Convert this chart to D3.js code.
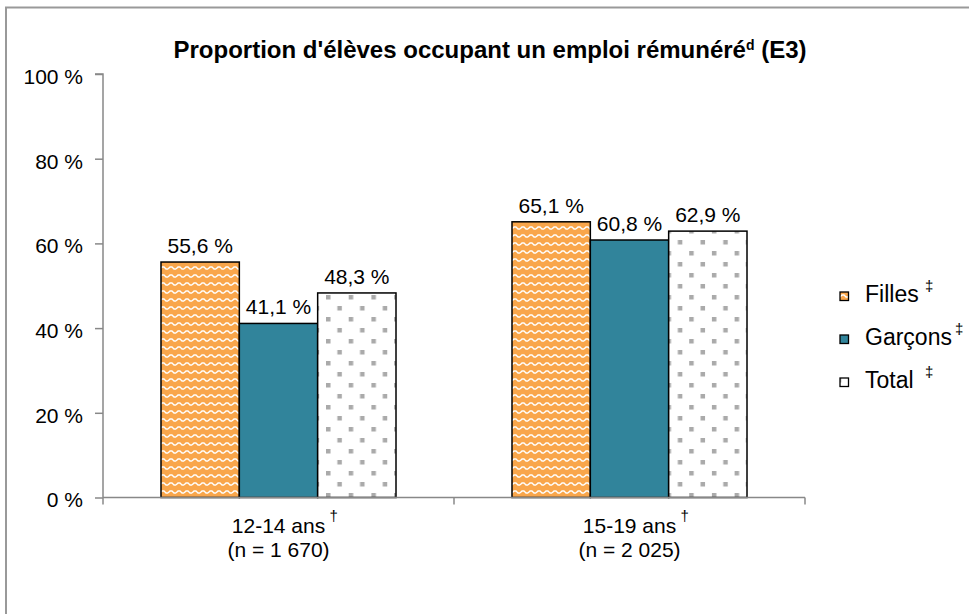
<!DOCTYPE html>
<html>
<head>
<meta charset="utf-8">
<script src="https://cdn.jsdelivr.net/npm/d3@7"></script>
<style>
  body { margin: 0; background: #fff; }
  svg { font-family: "Liberation Sans", Arial, sans-serif; }
</style>
</head>
<body>
<div id="container"></div>
<script>
// data
const groups = ["12-14 ans", "15-19 ans"];
const groupNotes = ["(n = 1 670)", "(n = 2 025)"];
const series = ["Filles", "Garçons", "Total"];
const filles = [55.6, 65.1];
const garcons = [41.1, 60.8];
const total = [48.3, 62.9];
const yTicks = [0, 20, 40, 60, 80, 100];

const values = [filles, garcons, total];
const fmt = v => v.toFixed(1).replace(".", ",") + " %";

const w = 969, h = 614;
const svg = d3.select("#container").append("svg")
  .attr("width", w).attr("height", h);

// PATTERNS
const defs = svg.append("defs");
const wave = defs.append("pattern")
  .attr("id", "wave").attr("patternUnits", "userSpaceOnUse")
  .attr("width", 8).attr("height", 8);
wave.append("rect").attr("width", 8).attr("height", 8).attr("fill", "#F9A64B");
wave.append("path")
  .attr("d", "M0,5 L2,3 L4,3 L6,5 L8,5")
  .attr("fill", "none").attr("stroke", "#fff").attr("stroke-width", 1.3);

const dots = defs.append("pattern")
  .attr("id", "dots").attr("patternUnits", "userSpaceOnUse")
  .attr("x", 326).attr("y", 295)
  .attr("width", 22.7).attr("height", 22);
dots.append("rect").attr("width", 22.7).attr("height", 22).attr("fill", "#fff");
dots.append("rect").attr("x", 0).attr("y", 0).attr("width", 4.5).attr("height", 4.5).attr("fill", "#aaa");
dots.append("rect").attr("x", 11.35).attr("y", 11).attr("width", 4.5).attr("height", 4.5).attr("fill", "#aaa");

const fills = ["url(#wave)", "#31849B", "url(#dots)"];

// FRAME
svg.append("rect")
  .attr("x", 6).attr("y", 7.5).attr("width", 980).attr("height", 640)
  .attr("fill", "none").attr("stroke", "#999").attr("stroke-width", 2);

// TITLE
const title = svg.append("text")
  .attr("x", 490).attr("y", 58)
  .attr("text-anchor", "middle")
  .attr("font-size", 24).attr("font-weight", "bold");
title.append("tspan").text("Proportion d'élèves occupant un emploi rémunéré");
title.append("tspan").attr("font-size", 14).attr("dy", -8).text("d");
title.append("tspan").attr("dy", 8).text(" (E3)");

// SCALES
const plotL = 103, plotR = 805, plotT = 74, plotB = 497.5;
const x0 = d3.scaleBand().domain(groups).range([plotL, plotR]).paddingInner(0).paddingOuter(0);
const x1 = d3.scaleBand().domain(series).range([58, x0.bandwidth() - 58]);
const y = d3.scaleLinear().domain([0, 100]).range([plotB, plotT]);

// Y AXIS
const yAxis = svg.append("g")
  .attr("transform", `translate(${plotL},0)`)
  .call(d3.axisLeft(y).tickValues(yTicks).tickSize(8).tickFormat(d => d + " %"));
yAxis.select(".domain").attr("stroke", "#888").attr("stroke-width", 1.5).attr("d", `M-8,${plotT}H0V${plotB}`);
yAxis.selectAll(".tick line").attr("stroke", "#888").attr("stroke-width", 1.5);
yAxis.selectAll(".tick text").attr("font-size", 21).attr("fill", "#000").attr("x", -20).attr("dy", "0.45em")
  .attr("font-family", "Liberation Sans, Arial, sans-serif");

// BARS
const g = svg.append("g");
groups.forEach((grp, gi) => {
  series.forEach((s, si) => {
    const v = values[si][gi];
    const bx = x0(grp) + x1(s);
    g.append("rect")
      .attr("x", bx).attr("y", y(v))
      .attr("width", x1.bandwidth()).attr("height", y(0) - y(v))
      .attr("fill", fills[si]).attr("stroke", "#000").attr("stroke-width", 1.5);
    g.append("text")
      .attr("x", bx + x1.bandwidth() / 2).attr("y", y(v) - 9)
      .attr("text-anchor", "middle").attr("font-size", 21)
      .text(fmt(v));
  });
});

// X AXIS
const xAxis = svg.append("g").attr("transform", `translate(0,${plotB})`);
xAxis.append("line").attr("x1", plotL).attr("x2", plotR)
  .attr("stroke", "#888").attr("stroke-width", 1.5);
[plotL, x0(groups[1]), plotR].forEach(t => {
  xAxis.append("line").attr("x1", t).attr("x2", t).attr("y1", 0).attr("y2", 7)
    .attr("stroke", "#888").attr("stroke-width", 1.5);
});
groups.forEach((grp, gi) => {
  const cx = x0(grp) + x0.bandwidth() / 2;
  xAxis.append("text").attr("x", cx).attr("y", 35)
    .attr("text-anchor", "middle").attr("font-size", 21).text(grp);
  xAxis.append("text").attr("x", cx + 51).attr("y", 23)
    .attr("font-size", 15).text("†");
  xAxis.append("text").attr("x", cx).attr("y", 59)
    .attr("text-anchor", "middle").attr("font-size", 21).text(groupNotes[gi]);
});

// LEGEND
const legend = svg.append("g").attr("transform", "translate(840,292)");
const daggerX = [85, 115, 85];
series.forEach((s, i) => {
  const ly = i * 43;
  legend.append("rect").attr("x", 0).attr("y", ly).attr("width", 8.5).attr("height", 8.5)
    .attr("fill", fills[i]).attr("stroke", "#000").attr("stroke-width", 1.3);
  legend.append("text").attr("x", 25).attr("y", ly + 10).attr("font-size", 23).text(s);
  legend.append("text").attr("x", daggerX[i]).attr("y", ly - 1).attr("font-size", 15).text("‡");
});
</script>
</body>
</html>
